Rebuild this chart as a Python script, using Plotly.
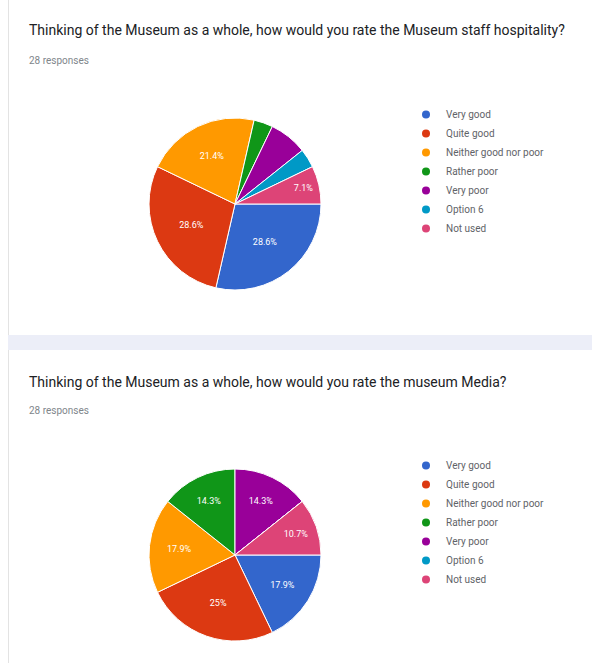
import plotly.graph_objs as go

# Survey answers (28 responses each)
options = ['Very good', 'Quite good', 'Neither good nor poor', 'Rather poor',
           'Very poor', 'Option 6', 'Not used']
colors = ['#3366cc', '#dc3912', '#ff9900', '#109618', '#990099', '#0099c6', '#dd4477']

title_hospitality = 'Thinking of the Museum as a whole, how would you rate the Museum staff hospitality?'
counts_hospitality = [8, 8, 6, 1, 2, 1, 2]
labels_hospitality = ['28.6%', '28.6%', '21.4%', '', '', '', '7.1%']

title_media = 'Thinking of the Museum as a whole, how would you rate the museum Media?'
counts_media = [5, 7, 5, 4, 4, 0, 3]
labels_media = ['17.9%', '25%', '17.9%', '14.3%', '14.3%', '', '10.7%']

responses = '28 responses'

W, H = 592, 663
FONT = 'Roboto, Arial, sans-serif'


def px_x(x):
    # screen pixel -> paper fraction
    return x / W


def px_y(y):
    return 1 - y / H


def pie_domain(cx, cy, r):
    return dict(x=[px_x(cx - r), px_x(cx + r)], y=[px_y(cy + r), px_y(cy - r)])


fig = go.Figure()

# two pies, Google Forms style: start at 3 o'clock, clockwise
for counts, text, cy in [(counts_hospitality, labels_hospitality, 204),
                         (counts_media, labels_media, 555)]:
    fig.add_trace(go.Pie(
        labels=options, values=counts, text=text, textinfo='text',
        textposition='inside', insidetextorientation='horizontal',
        textfont=dict(color='white', size=9, family=FONT),
        marker=dict(colors=colors, line=dict(color='white', width=1)),
        sort=False, direction='clockwise', rotation=90,
        domain=pie_domain(235, cy, 86), showlegend=False, hoverinfo='label+percent',
    ))

# round legend markers via dummy scatter traces
for leg in ['legend', 'legend2']:
    for name, c in zip(options, colors):
        fig.add_trace(go.Scatter(
            x=[None], y=[None], mode='markers', name=name,
            marker=dict(color=c, size=8, symbol='circle'), legend=leg,
        ))

legend_style = dict(font=dict(size=10, color='#5f6368', family=FONT),
                    bgcolor='rgba(0,0,0,0)', xanchor='left', yanchor='top',
                    itemwidth=30, tracegroupgap=0)

title_font = dict(size=14, color='#202124', family=FONT)
resp_font = dict(size=10, color='#80868b', family=FONT)

fig.update_layout(
    width=W, height=H,
    margin=dict(l=0, r=0, t=0, b=0, pad=0),
    paper_bgcolor='white', plot_bgcolor='white',
    xaxis=dict(visible=False), yaxis=dict(visible=False),
    legend=dict(x=px_x(406), y=px_y(100), **legend_style),
    legend2=dict(x=px_x(406), y=px_y(451), **legend_style),
    shapes=[
        # card border on the left
        dict(type='line', xref='paper', yref='paper', x0=px_x(8.5), x1=px_x(8.5),
             y0=0, y1=1, line=dict(color='#e3e3e3', width=1)),
        # gap between the two cards
        dict(type='rect', xref='paper', yref='paper', x0=px_x(8), x1=1,
             y0=px_y(350), y1=px_y(335), fillcolor='#eceef8', line=dict(width=0),
             layer='above'),
    ],
    annotations=[
        dict(text=title_hospitality, x=px_x(27), y=px_y(30), xref='paper', yref='paper',
             xanchor='left', yanchor='middle', showarrow=False, font=title_font),
        dict(text=responses, x=px_x(27), y=px_y(60), xref='paper', yref='paper',
             xanchor='left', yanchor='middle', showarrow=False, font=resp_font),
        dict(text=title_media, x=px_x(27), y=px_y(382), xref='paper', yref='paper',
             xanchor='left', yanchor='middle', showarrow=False, font=title_font),
        dict(text=responses, x=px_x(27), y=px_y(410), xref='paper', yref='paper',
             xanchor='left', yanchor='middle', showarrow=False, font=resp_font),
    ],
)

# drop the default page margin so the figure fills the window
fig.write_html('out.html', config={'displayModeBar': False},
               post_script="document.body.style.margin='0';")
